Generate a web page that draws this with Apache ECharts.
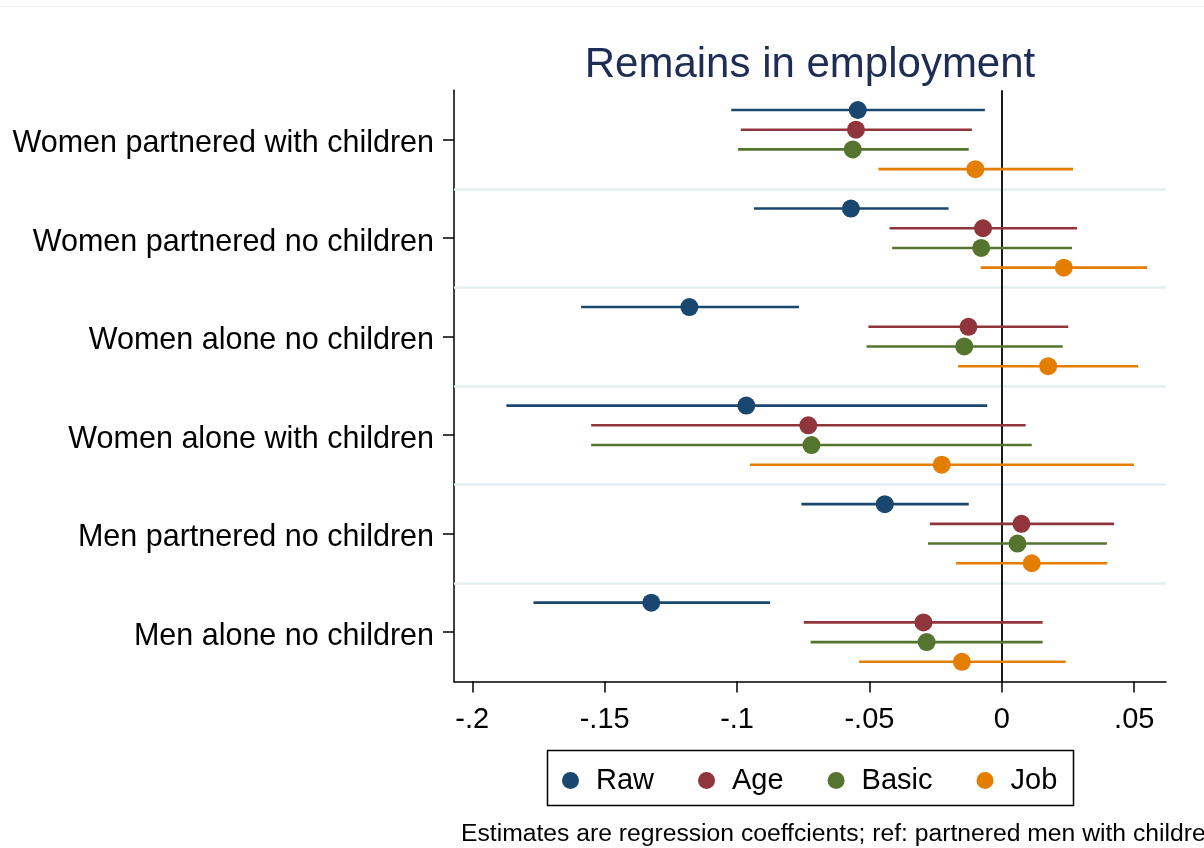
<!DOCTYPE html>
<html>
<head>
<meta charset="utf-8">
<script src="https://cdn.jsdelivr.net/npm/echarts@6/dist/echarts.min.js"></script>
<style>
  html, body { margin: 0; padding: 0; background: #fff; }
  #chart { width: 1204px; height: 848px; }
</style>
</head>
<body>
<div id="chart"></div>
<script>
// Groups compared with partnered men with children (top to bottom)
const groups = [
  'Women partnered with children',
  'Women partnered no children',
  'Women alone no children',
  'Women alone with children',
  'Men partnered no children',
  'Men alone no children'
];

// Model specifications
const models = ['Raw', 'Age', 'Basic', 'Job'];
const modelColors = ['#1a476f', '#90353b', '#55752f', '#e37e00'];

// Point estimates and 95% confidence bounds, one value per group
const rawEst   = [-0.0544, -0.0570, -0.1180, -0.0965, -0.0442, -0.1324];
const rawLo    = [-0.1022, -0.0936, -0.1589, -0.1871, -0.0757, -0.1769];
const rawHi    = [-0.0064, -0.0201, -0.0766, -0.0055, -0.0125, -0.0875];

const ageEst   = [-0.0551, -0.0071, -0.0126, -0.0731,  0.0074, -0.0296];
const ageLo    = [-0.0986, -0.0424, -0.0504, -0.1551, -0.0272, -0.0748];
const ageHi    = [-0.0113,  0.0284,  0.0251,  0.0090,  0.0424,  0.0154];

const basicEst = [-0.0563, -0.0078, -0.0142, -0.0719,  0.0059, -0.0284];
const basicLo  = [-0.0996, -0.0414, -0.0511, -0.1551, -0.0279, -0.0722];
const basicHi  = [-0.0125,  0.0265,  0.0230,  0.0113,  0.0397,  0.0154];

const jobEst   = [-0.0100,  0.0234,  0.0175, -0.0227,  0.0113, -0.0151];
const jobLo    = [-0.0466, -0.0080, -0.0165, -0.0951, -0.0173, -0.0539];
const jobHi    = [ 0.0269,  0.0549,  0.0515,  0.0499,  0.0398,  0.0241];

// X axis tick values
const xTicks = [-0.2, -0.15, -0.1, -0.05, 0, 0.05];

const estimates = [rawEst, ageEst, basicEst, jobEst];
const lowers    = [rawLo, ageLo, basicLo, jobLo];
const uppers    = [rawHi, ageHi, basicHi, jobHi];

// Each group occupies five rows: four models plus one spacer row
const ROWS_PER_GROUP = models.length + 1;
const totalRows = groups.length * ROWS_PER_GROUP;

function fmtTick(v) {
  if (Math.abs(v) < 1e-12) return '0';
  const s = String(parseFloat(v.toFixed(2)));
  return s.replace('0.', '.');
}

const FONT = '"Liberation Sans", Arial, sans-serif';

const dataSeries = models.map((name, s) => ({
  name: name,
  type: 'custom',
  xAxisIndex: 0,
  yAxisIndex: 1,
  z: 5,
  itemStyle: { color: modelColors[s] },
  encode: { x: [0, 1, 2], y: 3 },
  data: groups.map((g, gi) => [
    estimates[s][gi], lowers[s][gi], uppers[s][gi], gi * ROWS_PER_GROUP + s + 1
  ]),
  renderItem: function (params, api) {
    const row = api.value(3);
    const pLo = api.coord([api.value(1), row]);
    const pHi = api.coord([api.value(2), row]);
    const pE  = api.coord([api.value(0), row]);
    const color = modelColors[s];
    return {
      type: 'group',
      children: [
        { type: 'line', shape: { x1: pLo[0], y1: pLo[1], x2: pHi[0], y2: pHi[1] },
          style: { stroke: color, lineWidth: 2.6 } },
        { type: 'circle', shape: { cx: pE[0], cy: pE[1], r: 9 },
          style: { fill: color } }
      ]
    };
  }
}));

// Light separators between groups
const separatorLines = [];
for (let g = 1; g < groups.length; g++) separatorLines.push({ yAxis: g * ROWS_PER_GROUP });

const chart = echarts.init(document.getElementById('chart'), null, { renderer: 'canvas' });

chart.setOption({
  backgroundColor: '#ffffff',
  animation: false,
  textStyle: { fontFamily: FONT },
  title: {
    text: 'Remains in employment',
    left: 805,
    textAlign: 'center',
    top: 39,
    textStyle: { fontFamily: FONT, fontSize: 42, fontWeight: 'normal', color: '#1e2d56' }
  },
  grid: { left: 454, right: 38, top: 90.3, bottom: 166.5, containLabel: false },
  xAxis: {
    type: 'value',
    min: -0.2069,
    max: 0.062,
    axisLine: { show: true, onZero: false, lineStyle: { color: '#000', width: 1.5 } },
    axisTick: { show: true, length: 11, lineStyle: { color: '#000', width: 1.5 }, customValues: xTicks },
    axisLabel: {
      show: true, customValues: xTicks, margin: 24,
      fontFamily: FONT, fontSize: 29, color: '#000',
      formatter: fmtTick
    },
    splitLine: { show: false }
  },
  yAxis: [
    {
      type: 'category',
      data: groups,
      inverse: true,
      boundaryGap: true,
      axisLine: { show: true, onZero: false, lineStyle: { color: '#000', width: 1.5 } },
      axisTick: { show: true, alignWithLabel: true, length: 11, lineStyle: { color: '#000', width: 1.5 } },
      axisLabel: {
        margin: 20,
        formatter: function (v) { return '{g|' + v + '}'; },
        rich: {
          g: { fontFamily: FONT, fontSize: 30.5, color: '#000', padding: [8, 0, 0, 0] }
        }
      },
      splitLine: { show: false }
    },
    {
      type: 'value',
      min: 0,
      max: totalRows,
      inverse: true,
      show: false,
      axisLine: { show: false },
      axisTick: { show: false },
      axisLabel: { show: false },
      splitLine: { show: false }
    }
  ],
  legend: {
    data: models,
    icon: 'circle',
    left: 557,
    top: 761,
    itemWidth: 17,
    itemHeight: 17,
    itemGap: 44,
    textStyle: { fontFamily: FONT, fontSize: 29, color: '#000', padding: [0, 0, 0, 12] }
  },
  graphic: [
    { type: 'line', shape: { x1: 0, y1: 6.5, x2: 1204, y2: 6.5 },
      style: { stroke: '#eeeeee', lineWidth: 1 } },
    { type: 'rect', shape: { x: 547.5, y: 750.5, width: 526, height: 55 },
      style: { fill: 'none', stroke: '#000', lineWidth: 1.5 } },
    { type: 'text', left: 461, top: 822,
      style: { text: 'Estimates are regression coeffcients; ref: partnered men with children',
               fill: '#000', font: '24.7px ' + FONT } }
  ],
  series: [
    {
      type: 'scatter', xAxisIndex: 0, yAxisIndex: 1, data: [], z: 1, silent: true,
      markLine: {
        silent: true, symbol: 'none', label: { show: false },
        lineStyle: { color: '#e6eef1', width: 2.5, type: 'solid' },
        data: separatorLines
      }
    },
    {
      type: 'scatter', xAxisIndex: 0, yAxisIndex: 1, data: [], z: 2, silent: true,
      markLine: {
        silent: true, symbol: 'none', label: { show: false },
        lineStyle: { color: '#000', width: 1.8, type: 'solid' },
        data: [{ xAxis: 0 }]
      }
    }
  ].concat(dataSeries)
});
</script>
</body>
</html>
